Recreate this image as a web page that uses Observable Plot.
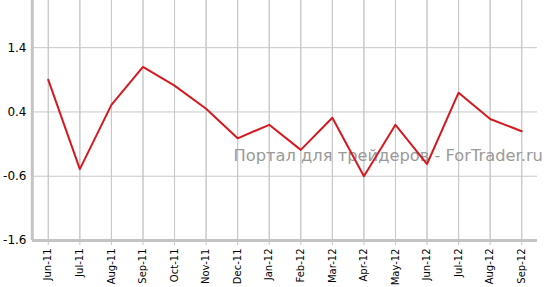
<!DOCTYPE html>
<html><head><meta charset="utf-8">
<script src="https://cdn.jsdelivr.net/npm/d3@7"></script>
<script src="https://cdn.jsdelivr.net/npm/@observablehq/plot@0.6"></script>
<style>body{margin:0;background:#fff}</style>
</head><body><div id="chart"></div>
<script>
const months = ["Jun-11","Jul-11","Aug-11","Sep-11","Oct-11","Nov-11","Dec-11","Jan-12","Feb-12","Mar-12","Apr-12","May-12","Jun-12","Jul-12","Aug-12","Sep-12"];
const values = [0.9,-0.49,0.51,1.1,0.81,0.45,-0.01,0.2,-0.19,0.31,-0.6,0.2,-0.41,0.7,0.29,0.1];
const yTicks = [-1.6,-0.6,0.4,1.4];
const watermark = "Портал для трейдеров - ForTrader.ru";
const data = months.map((m,i)=>({m, v: values[i]}));
const chart = Plot.plot({
  width: 549, height: 287,
  marginLeft: 32, marginRight: 12, marginTop: 0, marginBottom: 47,
  style: {fontFamily: "Verdana, 'DejaVu Sans', sans-serif", fontSize: "11px", color: "#000", background: "#fff"},
  x: {type: "point", domain: months, padding: 0.5, round: false, label: null},
  y: {domain: [-1.6, 2.134], label: null},
  marks: [
    Plot.gridX(months, {stroke: "#c8c8c8", strokeOpacity: 1, strokeWidth: 1}),
    Plot.gridY(yTicks.slice(1), {stroke: "#c8c8c8", strokeOpacity: 1, strokeWidth: 1}),
    Plot.tickX(months, {x: d=>d, y1: -1.6, y2: -1.6, stroke: "#c8c8c8", insetBottom: -5}),
    Plot.text([watermark], {frameAnchor: "top-left", dx: 201, dy: 155, text: d=>d, fill: "#9a9a9a", fontSize: 16.3, fontFamily: "'DejaVu Sans', Verdana, sans-serif", textAnchor: "start", lineAnchor: "middle"}),
    Plot.ruleX([0], {x: () => months[0], dx: -16, stroke: "#c4c4c4", strokeWidth: 3}),
    Plot.ruleY([-1.6], {stroke: "#c4c4c4", strokeWidth: 3}),
    Plot.axisY({ticks: yTicks, tickSize: 0, tickPadding: 6, tickFormat: d=>d.toFixed(1), fontSize: 12}),
    Plot.axisX({ticks: months, tickSize: 0, tickRotate: -90, tickPadding: 8, fontSize: 10}),
    Plot.line(data, {x: "m", y: "v", stroke: "#d41a1f", strokeWidth: 2})
  ]
});
document.getElementById("chart").append(chart);
</script></body></html>
